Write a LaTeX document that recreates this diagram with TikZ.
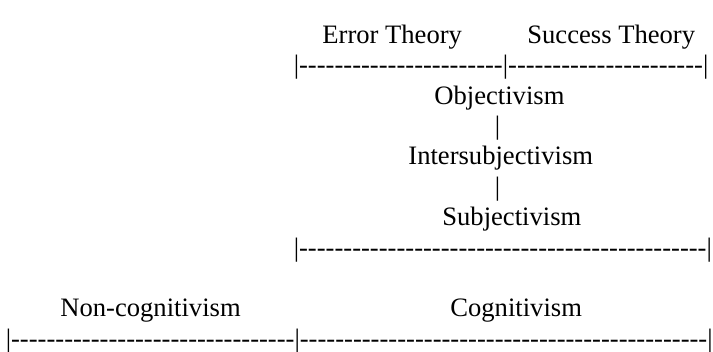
\documentclass[tikz,border=0pt]{standalone}
\usepackage{fontspec}
\setmainfont{Liberation Serif}
\usetikzlibrary{positioning}

\tikzset{
    txt/.style={inner sep=0pt, anchor=base west, font=\fontsize{13.3}{16}\selectfont},
}
\newcommand{\dashrun}[1]{\foreach \k in {1,...,#1}{-}}

\begin{document}
\begin{tikzpicture}[]
    \useasboundingbox (0,0) rectangle (356.5pt,176pt);

    % top: theories
    \node [txt] (err) at (161pt,154.3pt) {Error Theory};
    \node [txt] (succ) at (263.5pt,154.3pt) {Success Theory};
    \node [txt, below=15.2pt of err.base west, anchor=base west, xshift=-14.3pt] (top) {|\dashrun{23}|\dashrun{22}|};

    % the chain
    \node [txt] (obj) at (217pt,123.9pt) {Objectivism};
    \node [txt, below=15.2pt of obj.base west, anchor=base west, xshift=30.2pt] (bara) {|};
    \node [txt, below=30.4pt of obj.base west, anchor=base west, xshift=-13pt] (inter) {Intersubjectivism};
    \node [txt, below=30.4pt of bara.base west, anchor=base west] (barb) {|};
    \node [txt, below=30.4pt of inter.base west, anchor=base west, xshift=17pt] (subj) {Subjectivism};
    \node [txt, below=15.2pt of subj.base west, anchor=base west, xshift=-74.3pt] (mid) {|\dashrun{46}|};

    % bottom: cognitivism
    \node [txt] (noncog) at (30pt,17.5pt) {Non-cognitivism};
    \node [txt] (cog) at (225pt,17.5pt) {Cognitivism};
    \node [txt, below=15.2pt of noncog.base west, anchor=base west, xshift=-27.3pt] (bot) {|\dashrun{32}|\dashrun{46}|};
\end{tikzpicture}
\end{document}
